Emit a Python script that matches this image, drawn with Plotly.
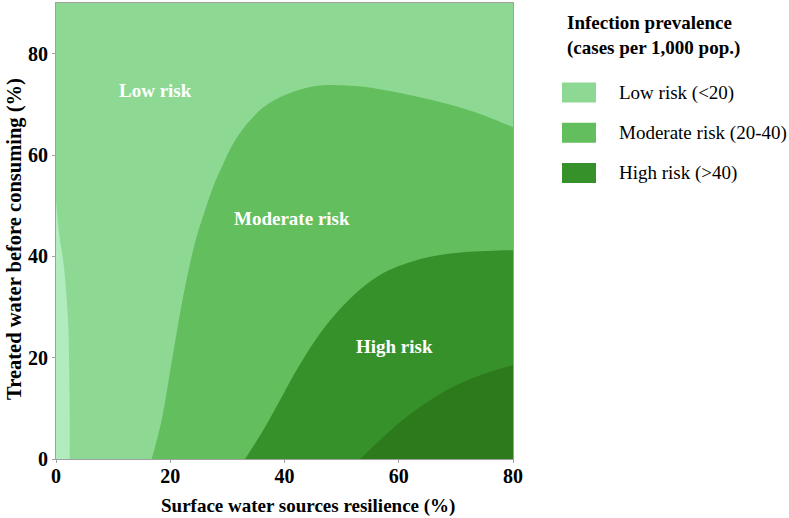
import plotly.graph_objects as go

# Boundaries (x = surface water resilience %, y = treated water %)
vlow_x = [2.4, 2.4, 2.3, 2.2, 1.9, 1.4, 0.55, 0.0]
vlow_y = [0.0, 10.0, 18.0, 24.8, 31.3, 37.8, 44.5, 51.0]

mod_x = [16.75, 18.5, 20.5, 22.6, 24.6, 26.1, 27.5, 29.3, 31.0, 33.4, 36.3, 39.2, 42.1, 46.2, 50.9, 56.7, 62.5, 68.4, 74.2, 80.0, 82.0]
mod_y = [0.0, 7.7, 20.8, 34.0, 43.8, 49.1, 53.7, 58.3, 62.2, 66.1, 69.4, 71.4, 72.7, 73.7, 73.7, 73.0, 71.7, 70.1, 68.1, 65.5, 64.6]

high_x = [33.1, 36.3, 39.2, 42.1, 45.0, 48.0, 50.9, 53.8, 56.7, 59.6, 65.5, 71.3, 80.0, 82.0]
high_y = [0.0, 5.7, 11.6, 17.5, 22.8, 27.4, 31.0, 34.0, 36.3, 37.9, 39.9, 40.8, 41.2, 41.2]

vhigh_x = [53.2, 56.7, 59.6, 62.5, 65.5, 68.4, 71.3, 76.0, 80.0, 82.0]
vhigh_y = [0.0, 3.7, 6.7, 9.3, 11.6, 13.6, 15.2, 17.2, 18.5, 19.0]

band_names = ["Low risk (<20)", "Moderate risk (20-40)", "High risk (>40)"]
region_labels = ["Low risk", "Moderate risk", "High risk"]
label_x = [17.5, 41.3, 59.3]
label_y = [72.7, 47.5, 22.3]

x_title = "Surface water sources resilience (%)"
y_title = "Treated water before consuming (%)"

C_VLOW = "#b0ecbd"
C_LOW = "#8dd993"
C_MOD = "#63be5d"
C_HIGH = "#36912a"
C_VHIGH = "#2c7a1c"
legend_colors = [C_LOW, C_MOD, C_HIGH]

FONT = "Liberation Serif, Times New Roman, serif"
FS = 19

fig = go.Figure()
fig.add_trace(go.Scatter(x=vlow_x, y=vlow_y, mode="lines", line=dict(width=0, shape="spline"),
                         fill="tozerox", fillcolor=C_VLOW, showlegend=False, hoverinfo="skip"))
fig.add_trace(go.Scatter(x=mod_x, y=mod_y, mode="lines", line=dict(width=0, shape="spline"),
                         fill="tozeroy", fillcolor=C_MOD, showlegend=False, hoverinfo="skip"))
fig.add_trace(go.Scatter(x=high_x, y=high_y, mode="lines", line=dict(width=0, shape="spline"),
                         fill="tozeroy", fillcolor=C_HIGH, showlegend=False, hoverinfo="skip"))
fig.add_trace(go.Scatter(x=vhigh_x, y=vhigh_y, mode="lines", line=dict(width=0, shape="spline"),
                         fill="tozeroy", fillcolor=C_VHIGH, showlegend=False, hoverinfo="skip"))

for t, x, y in zip(region_labels, label_x, label_y):
    fig.add_annotation(x=x, y=y, text=f"<b>{t}</b>", showarrow=False,
                       font=dict(family=FONT, size=FS, color="white"))

# Axis titles (offset like the reference)
fig.add_annotation(xref="paper", yref="paper", x=(308 - 56) / 457, y=(459 - 506) / 456,
                   xanchor="center", yanchor="middle", text=f"<b>{x_title}</b>", showarrow=False,
                   font=dict(family=FONT, size=FS, color="black"))
fig.add_annotation(xref="paper", yref="paper", x=(14 - 56) / 457, y=(459 - 239) / 456,
                   xanchor="center", yanchor="middle", text=f"<b>{y_title}</b>", showarrow=False,
                   textangle=-90, font=dict(family=FONT, size=20.5, color="black"))

# Manual legend
fig.add_annotation(xref="paper", yref="paper", x=(565 - 56) / 457, y=(459 - 10) / 456,
                   xanchor="left", yanchor="top",
                   text="<b>Infection prevalence<br>(cases per 1,000 pop.)</b>", align="left",
                   showarrow=False, font=dict(family=FONT, size=FS, color="black"))
for i, (name, col) in enumerate(zip(band_names, legend_colors)):
    yc = 92.5 + i * 40.3
    fig.add_shape(type="rect", xref="paper", yref="paper",
                  x0=(562 - 56) / 457, x1=(596 - 56) / 457,
                  y0=(459 - (yc + 10)) / 456, y1=(459 - (yc - 10)) / 456,
                  fillcolor=col, line=dict(width=0))
    fig.add_annotation(xref="paper", yref="paper", x=(617 - 56) / 457, y=(459 - yc) / 456,
                       xanchor="left", yanchor="middle", text=name, showarrow=False,
                       font=dict(family=FONT, size=FS, color="black"))

axis_common = dict(showgrid=False, zeroline=False, showline=True, linecolor="#a0a0a0", linewidth=1,
                   mirror=True, ticks="outside", ticklen=3, tickcolor="#a0a0a0",
                   tickfont=dict(family=FONT, size=FS + 1, color="black"))
ticks = [0, 20, 40, 60, 80]
tick_text = [f"<b>{t}</b>" for t in ticks]
fig.update_xaxes(range=[0, 80], tickvals=ticks, ticktext=tick_text, ticklabelstandoff=-4, **axis_common)
fig.update_yaxes(range=[0, 90], tickvals=ticks, ticktext=tick_text, **axis_common)

fig.update_layout(width=789, height=518, margin=dict(l=56, r=276, t=3, b=59),
                  plot_bgcolor=C_LOW, paper_bgcolor="white", showlegend=False)

fig.write_html("out.html")
